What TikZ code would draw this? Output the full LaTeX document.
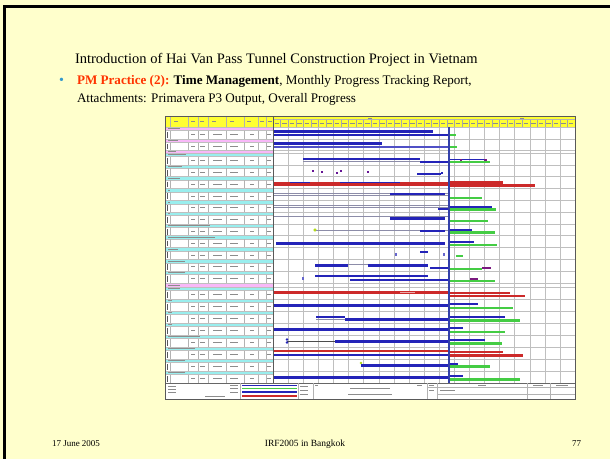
\documentclass[tikz,border=0pt]{standalone}
\usepackage{fontspec}
\setmainfont{Liberation Serif}
\definecolor{slidebg}{HTML}{FFFFCC}
\definecolor{ptred}{HTML}{FF3300}
\definecolor{bulletblue}{HTML}{3399CC}
\definecolor{hdryellow}{HTML}{FFFF33}
\definecolor{rowcyan}{HTML}{99EEEE}
\definecolor{rowpink}{HTML}{F8B8F8}
\definecolor{barblue}{HTML}{2424B8}
\definecolor{bargreen}{HTML}{44CC44}
\definecolor{barred}{HTML}{CC2A2A}
\definecolor{bargrey}{HTML}{8C8CA8}
\definecolor{datadate}{HTML}{3340AA}

% one bar of the schedule: colour, start x, end x, centre y, thickness
\newcommand\gb[5]{\fill[#1] (#2,{#4-#5/2}) rectangle (#3,{#4+#5/2});}
% one activity row: top, height, label strip colour, label length
\newcommand\ganttrow[4]{%
  \fill[#3] (165,#1) rectangle (273,{#1+3.5});
  \draw[gridc] (165,#1) -- (575,#1);
  \draw[gridc] (165,{#1+3.5}) -- (273,{#1+3.5});
  \draw[txtmark] (168,{#1+1.75}) -- (#4,{#1+1.75});
  \foreach \cx in {170,188,198,208,226,244,258,266}
    \draw[colc] (\cx,{#1+3.5}) -- (\cx,{#1+#2});
  \foreach \ax/\bx in {191/195,200/205,213/222,230/238,250/254,267/271}
    \draw[txtmark] (\ax,{#1+(#2+3.5)/2}) -- (\bx,{#1+(#2+3.5)/2});
  \draw[line width=1pt,black!65] (167,{#1+5}) -- (167,{#1+#2-1});
}

\begin{document}
\begin{tikzpicture}[x=1pt,y=-1pt,
  gridc/.style={gray!50,line width=0.4pt},
  colc/.style={gray!60,line width=0.4pt},
  txtmark/.style={black!45,line width=0.8pt},
  every node/.style={inner sep=0pt,outer sep=0pt}]
\useasboundingbox (0,0) rectangle (610,459);
% slide background and frame
\fill[slidebg] (0,0) rectangle (610,459);
\fill[black] (3,5) rectangle (610,8);
\fill[black] (3,5) rectangle (6,459);

% heading and bullet
\node[anchor=base west,font=\fontsize{14.5}{17}\selectfont] (title) at (75,63)
  {Introduction of Hai Van Pass Tunnel Construction Project in Vietnam};
\node[anchor=base west,text=bulletblue,font=\fontsize{14}{16}\selectfont] (bullet) at (59,84) {•};
\node[anchor=base west,font=\fontsize{13.1}{15}\selectfont] (line1) at (77,84)
  {\textcolor{ptred}{\textbf{PM Practice (2):}} \textbf{Time Management}, Monthly Progress Tracking Report,};
\node[anchor=base west,font=\fontsize{13.1}{15}\selectfont] (line2) at (77,102)
  {Attachments: Primavera P3 Output, Overall Progress};

% ---------- schedule sheet ----------
\fill[white] (165,116) rectangle (575,399);
% header
\fill[hdryellow] (165,116) rectangle (575,127);
\draw[colc] (273,119.5) -- (575,119.5);
\foreach \cx in {170,188,198,208,226,244,258,266}
  \draw[colc] (\cx,116) -- (\cx,127);
\foreach \cx in {174,191,200,212,230,247,260,268}
  \draw[txtmark,line width=0.6pt] (\cx,121.5) -- ({\cx+4},121.5);
\foreach \k in {0,...,39}{
  \draw[gray!70,line width=0.3pt] ({273+7.55*\k},119.5) -- ({273+7.55*\k},127);
  \draw[black!45,line width=0.6pt] ({274.5+7.55*\k},123.5) -- ({279+7.55*\k},123.5);
}
\draw[txtmark,line width=0.6pt] (368,118) -- (372,118);
\draw[txtmark,line width=0.6pt] (520,118) -- (524,118);

% time grid
\foreach \k in {1,...,19}
  \draw[gridc] ({273+15.1*\k},127) -- ({273+15.1*\k},383);

% activity rows
\ganttrow{127}{12}{rowpink}{180}
\ganttrow{139}{11}{rowpink}{178}
\fill[rowpink] (165,150) rectangle (273,153);
\draw[gridc] (165,150) -- (575,150);
\draw[txtmark] (168,151.5) -- (176,151.5);
\foreach \i/\le in {0/186,1/182,2/180,3/170,4/170,5/170,6/210,7/215,8/178,9/185,10/185}{
  \pgfmathsetmacro\rt{153+11.8*\i}
  \ganttrow{\rt}{11.8}{rowcyan}{\le}
}
\fill[rowpink] (165,283) rectangle (273,287);
\draw[gridc] (165,283) -- (575,283);
\draw[txtmark] (168,285) -- (180,285);
\foreach \i/\le in {0/180,1/172,2/172,3/172,4/200,5/195,6/185,7/185}{
  \pgfmathsetmacro\rt{287+12*\i}
  \ganttrow{\rt}{12}{rowcyan}{\le}
}

% bars, first block
\gb{barblue}{273}{433}{131.5}{2.5}
\gb{barblue}{273}{448}{135}{2.5}
\gb{bargreen}{449}{456}{135}{2}
\gb{barblue}{273}{382}{143.5}{2.5}
\gb{barblue!80}{273}{448}{147}{2}
\gb{bargreen}{449}{457}{147}{2}
% r0
\gb{bargrey}{303}{448}{161.5}{1}
\gb{barblue}{303}{420}{159}{2.5}
\gb{barblue}{420}{448}{161.5}{2}
\gb{barblue}{449}{486}{159.5}{1.5}
\gb{bargreen}{449}{490}{162}{2}
\gb{barred!60!blue}{460}{462}{160}{2}
\gb{barred!60!blue}{484}{487}{160}{2}
% r1
\foreach \mx/\my in {312/171,321/172,336/173,340/171,367/172}
  \gb{barred!50!blue}{\mx}{\mx+2}{\my}{2.5}
\gb{barblue}{417}{441}{174}{2.5}
\gb{barblue}{441}{443}{173}{2}
% r2
\gb{barred}{273}{448}{184}{3.2}
\gb{barblue}{290}{310}{182.3}{1.2}
\gb{barblue}{340}{400}{182.3}{1.2}
\gb{barred}{449}{503}{182.5}{2.5}
\gb{barred}{449}{535}{185.5}{2.5}
% r3
\gb{bargrey}{273}{448}{193}{1}
\gb{bargrey}{273}{448}{195.5}{1}
\gb{barblue}{390}{445}{194}{2.5}
\gb{bargreen}{449}{482}{198}{2.5}
% r4
\gb{bargrey}{273}{448}{205}{1}
\gb{bargrey}{273}{448}{207.5}{1}
\gb{barblue}{438}{448}{209}{2}
\gb{barblue}{449}{492}{206.5}{2}
\gb{bargreen}{449}{496}{209.5}{2.5}
% r5
\gb{bargrey}{273}{448}{216}{1}
\gb{barblue}{390}{445}{218.5}{2.5}
\gb{bargreen}{449}{488}{221}{2.5}
% r6
\gb{bargrey}{315}{448}{230}{1}
\fill[yellow!70!green] (315,230) circle (1.3);
\gb{barblue}{420}{445}{231}{2}
\gb{barblue}{449}{472}{229.5}{2}
\gb{bargreen}{449}{495}{232.5}{2.5}
% r7
\gb{barblue}{276}{445}{243}{3}
\gb{barblue}{449}{474}{241.5}{2}
\gb{bargreen}{449}{497}{245}{2.5}
% r8
\gb{barblue!70}{395}{396.5}{254}{3}
\gb{barblue}{420}{428}{252}{2}
\gb{barblue!70}{443}{444.5}{254}{3}
\gb{bargreen}{456}{463}{255.5}{2}
% r9
\gb{bargrey}{315}{428}{264}{1}
\gb{barblue}{315}{348}{265.5}{3}
\gb{barblue}{368}{428}{265.5}{3}
\gb{barblue}{430}{448}{268}{1.5}
\gb{bargreen}{449}{482}{269}{2.5}
\gb{barred!60!blue}{482}{491}{268}{2}
% r10
\gb{barblue}{315}{428}{276}{2}
\gb{barblue}{350}{448}{280}{2.5}
\gb{bargreen}{449}{495}{281}{2.5}
\gb{barred!60!blue}{470}{478}{279}{2}
\gb{barblue!70}{302}{303.5}{278}{3}

% bars, second block
% s0
\gb{barred}{273}{448}{292.5}{3.5}
\gb{barred!40}{400}{415}{292.5}{1}
\gb{barred}{449}{510}{293}{2}
\gb{barred}{449}{525}{296}{2.5}
% s1
\gb{barblue}{273}{448}{305.5}{3}
\gb{barblue}{449}{478}{303.5}{2}
\gb{bargreen}{449}{513}{308}{2.5}
% s2
\gb{barblue}{316}{345}{317}{2.5}
\gb{bargrey}{316}{345}{319}{1}
\gb{barblue}{345}{448}{319}{3}
\gb{barblue}{449}{505}{316.5}{2}
\gb{bargreen}{449}{520}{320.5}{2.5}
% s3
\gb{barblue}{273}{448}{329.5}{3}
\gb{barblue}{449}{463}{328}{2}
\gb{bargreen}{449}{505}{332}{2.5}
% s4
\gb{black!70}{287}{335}{341}{0.8}
\fill[barblue] (287,339.5) circle (1.3) (287,342.5) circle (1.3);
\gb{barblue}{335}{448}{341}{3}
\gb{barblue}{449}{485}{339.5}{2}
\gb{bargreen}{449}{502}{343.5}{2.5}
% s5
\gb{barred}{273}{448}{351}{2.5}
\gb{barblue}{273}{448}{355}{2.5}
\gb{barred}{449}{503}{351.5}{2}
\gb{barred}{449}{523}{355.5}{2.5}
% s6
\fill[yellow!70!green] (361,363) circle (1.3);
\gb{barblue}{361}{448}{365.5}{3}
\gb{barblue}{449}{458}{364}{2}
\gb{bargreen}{449}{490}{366.5}{2.5}
% s7
\gb{barblue}{273}{448}{377.5}{3}
\gb{barblue}{449}{463}{376}{2}
\gb{bargreen}{449}{520}{379.5}{2.5}

% data date line
\draw[datadate,line width=1.2pt] (449,127) -- (449,383);

% legend strip
\draw[black!60,line width=0.5pt] (165,383) -- (575,383);
\foreach \lx in {240,298,313,427,437,527,550}
  \draw[colc] (\lx,383) -- (\lx,399);
\draw[colc] (427,387) -- (575,387);
\draw[colc] (437,394) -- (575,394);
\foreach \ly in {386,389,392} \draw[txtmark,line width=0.6pt] (168,\ly) -- (176,\ly);
\draw[txtmark,line width=0.6pt] (205,396) -- (225,396);
\foreach \ly in {385,388,392} \draw[txtmark,line width=0.6pt] (230,\ly) -- (238,\ly);
\gb{barblue}{242}{297}{385.5}{1.8}
\gb{bargreen}{242}{297}{388.5}{1.8}
\gb{barblue}{242}{297}{392}{1.8}
\gb{barred}{242}{297}{396}{1.8}
\foreach \ly in {386,390,394} \draw[txtmark,line width=0.6pt] (300,\ly) -- (308,\ly);
\draw[txtmark,line width=0.6pt] (350,388) -- (390,388);
\draw[txtmark,line width=0.6pt] (348,394) -- (392,394);
\draw[txtmark,line width=0.6pt] (315,385) -- (318,385);
\draw[txtmark,line width=0.6pt] (417,385) -- (422,385);
\draw[txtmark,line width=0.6pt] (429,385) -- (434,385);
\draw[txtmark,line width=0.6pt] (429,390) -- (434,390);
\draw[txtmark,line width=0.6pt] (440,390) -- (455,390);
\draw[txtmark,line width=0.6pt] (478,385) -- (486,385);
\draw[txtmark,line width=0.6pt] (533,385) -- (543,385);
\draw[txtmark,line width=0.6pt] (556,385) -- (568,385);

% sheet outline
\draw[black!65,line width=0.6pt] (165,116) rectangle (575,399);
\draw[black!65,line width=0.5pt] (273,116) -- (273,383);

% footer
\node[anchor=base west,font=\fontsize{9}{11}\selectfont] (date) at (52,446) {17 June 2005};
\node[anchor=base,font=\fontsize{9.5}{11}\selectfont] (venue) at (305,446) {IRF2005 in Bangkok};
\node[anchor=base east,font=\fontsize{9}{11}\selectfont] (page) at (581,446) {77};
\end{tikzpicture}
\end{document}
